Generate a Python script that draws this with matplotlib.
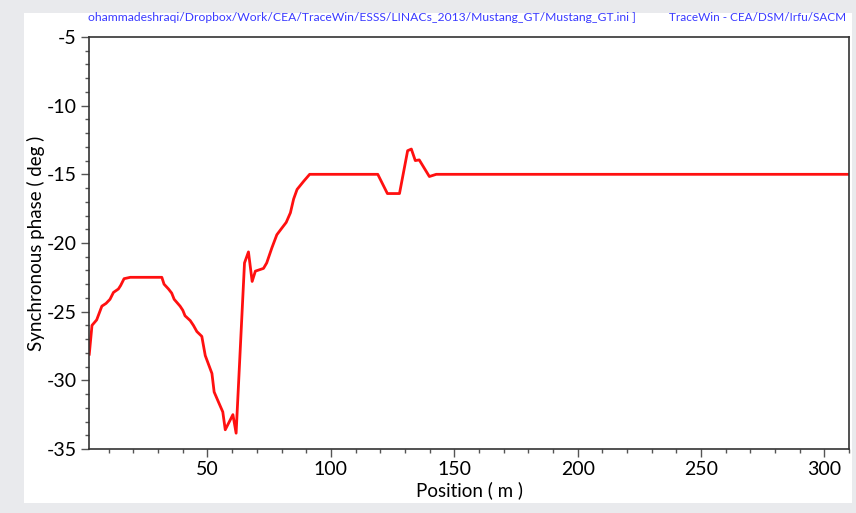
import matplotlib
matplotlib.use("Agg")
import matplotlib.pyplot as plt
from matplotlib.ticker import MultipleLocator

# synchronous phase along the linac, position in m / phase in deg
position = [2.1, 3.2, 5.1, 7.2, 8.9, 10.5, 11.9, 13.9, 14.8, 16.2, 18.7, 31.5,
            32.4, 34.2, 35.5, 36.5, 38.9, 40.0, 40.9, 43.0, 44.3, 45.7, 47.7,
            49.1, 51.8, 52.7, 54.5, 56.2, 57.2, 60.3, 61.6, 65.0, 66.6, 68.1,
            69.4, 72.7, 74.0, 76.1, 78.1, 80.2, 81.9, 83.6, 84.9, 86.3, 89.0,
            91.4, 119.0, 122.9, 127.8, 131.1, 132.6, 134.2, 135.8, 139.9,
            142.7, 310.0]
phase = [-28.1, -26.0, -25.6, -24.6, -24.4, -24.1, -23.6, -23.35, -23.1, -22.6,
         -22.5, -22.5, -23.0, -23.35, -23.65, -24.1, -24.6, -24.9, -25.3,
         -25.65, -26.0, -26.45, -26.8, -28.2, -29.5, -30.85, -31.6, -32.3,
         -33.6, -32.5, -33.85, -21.45, -20.65, -22.8, -22.05, -21.85, -21.45,
         -20.35, -19.4, -18.9, -18.5, -17.8, -16.8, -16.1, -15.5, -15.0,
         -15.0, -16.4, -16.4, -13.28, -13.16, -14.0, -13.95, -15.16, -15.0,
         -15.0]

file_path = "ohammadeshraqi/Dropbox/Work/CEA/TraceWin/ESSS/LINACs_2013/Mustang_GT/Mustang_GT.ini ]"
program = "TraceWin - CEA/DSM/Irfu/SACM"

plt.rcParams['font.family'] = ['Lato', 'DejaVu Sans']
plt.rcParams['axes.unicode_minus'] = False

fig = plt.figure(figsize=(8.56, 5.13), dpi=100)
fig.patch.set_facecolor('#e9eaed')

# white sheet behind the plot
sheet = fig.add_axes([0.028, 0.0195, 0.967, 0.955], zorder=-1)
sheet.set_facecolor('white')
sheet.set_xticks([])
sheet.set_yticks([])
for s in sheet.spines.values():
    s.set_visible(False)

ax = fig.add_axes([0.104, 0.1248, 0.888, 0.8031])
ax.plot(position, phase, color='#ff1010', linewidth=2.0)

ax.set_xlim(2, 310)
ax.set_ylim(-35, -5)
ax.xaxis.set_major_locator(MultipleLocator(50))
ax.xaxis.set_minor_locator(MultipleLocator(10))
ax.yaxis.set_major_locator(MultipleLocator(5))
ax.yaxis.set_minor_locator(MultipleLocator(1))
ax.tick_params(which='major', length=6, width=1.0, color='#555555', labelsize=14, pad=3)
ax.tick_params(which='minor', length=3.2, width=1.0, color='#555555')
for s in ax.spines.values():
    s.set_color('#333333')
    s.set_linewidth(1.2)

ax.set_xlabel("Position ( m )", fontsize=13.5, labelpad=2)
ax.set_ylabel("Synchronous phase ( deg )", fontsize=13.5, labelpad=1)

fig.text(0.103, 0.965, file_path, color='#3a3aff', fontsize=8.7, va='center', ha='left')
fig.text(0.988, 0.965, program, color='#3a3aff', fontsize=8.5, va='center', ha='right')

fig.savefig("out.png", dpi=100, facecolor=fig.get_facecolor())
